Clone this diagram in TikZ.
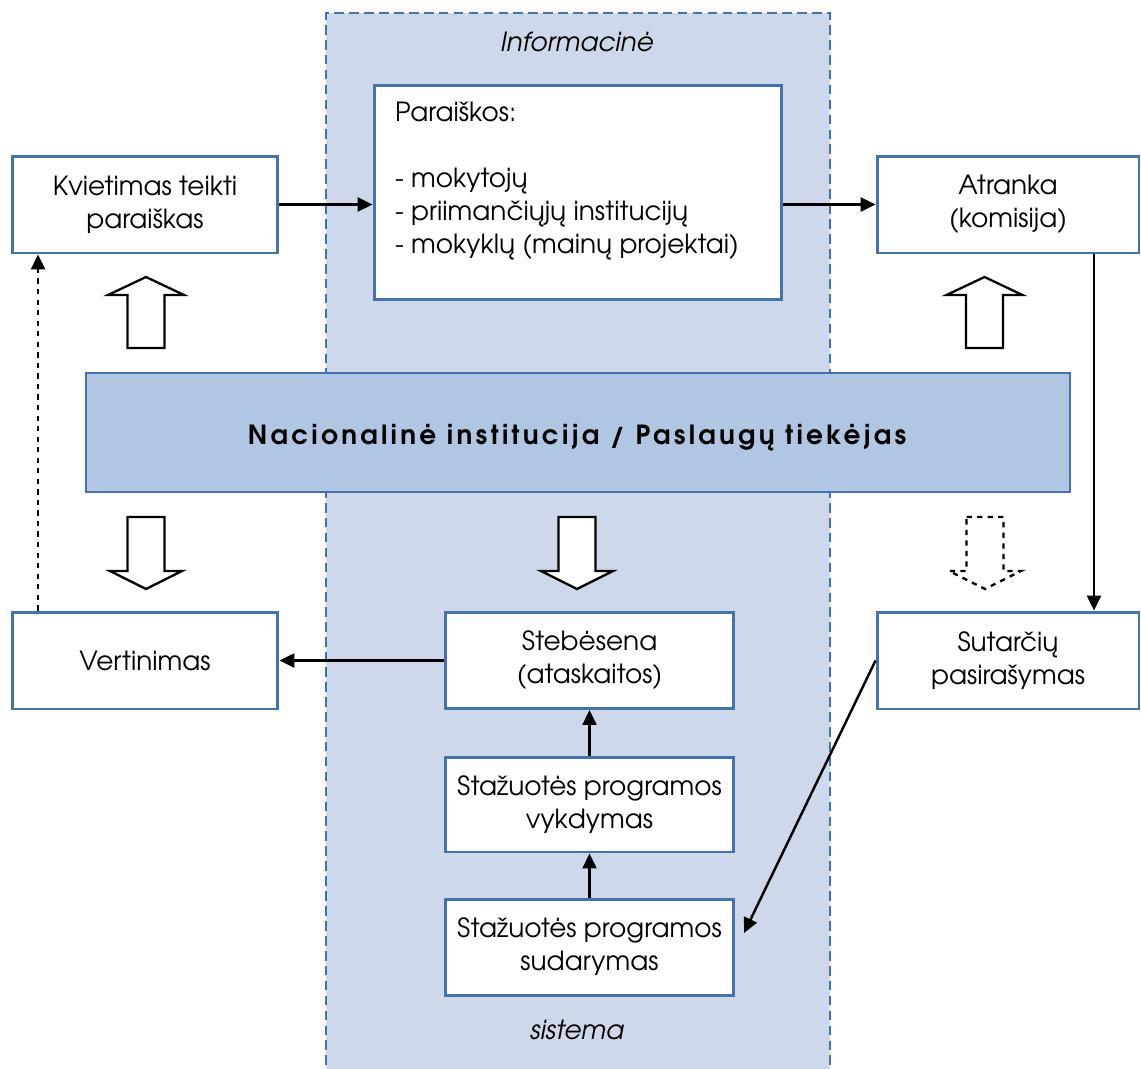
\documentclass[tikz,border=0pt]{standalone}
\usepackage{fontspec}
\setmainfont{TeX Gyre Adventor}
\usepackage{tikz}
\usetikzlibrary{positioning,arrows.meta,calc}
\definecolor{bandblue}{RGB}{205,217,234}
\definecolor{natblue}{RGB}{177,198,226}
\definecolor{edgeblue}{RGB}{68,114,176}
\tikzset{%
  txt/.style={font=\fontsize{15pt}{18.8pt}\selectfont, align=center},
  stage/.style={txt, draw=edgeblue, line width=1.7pt, fill=white, rectangle,
    inner sep=0pt},% white process box
  conn/.style={line width=1.4pt, -{Triangle[length=0.3cm,width=0.28cm]}},% connector
  bigarrow/.style={draw, line width=1.3pt, fill=white, line join=miter}% block arrow
}
\newcommand*{\blockup}[2][]{%
  \draw[bigarrow,#1] (#2-18.5,348) -- (#2-18.5,295) -- (#2-38,295) -- (#2,277)
    -- (#2+38,295) -- (#2+18.5,295) -- (#2+18.5,348) -- cycle;}
\newcommand*{\blockdown}[2][]{%
  \draw[bigarrow,#1] (#2-18.5,517) -- (#2+18.5,517) -- (#2+18.5,571) -- (#2+36,571)
    -- (#2,589) -- (#2-36,571) -- (#2-18.5,571) -- cycle;}
\begin{document}
\begin{tikzpicture}[x=0.02cm, y=-0.02cm]
\useasboundingbox (0,0) rectangle (1141,1068);

% information system band
\fill[bandblue] (326,13) rectangle (830,1080);
\draw[edgeblue, line width=1.4pt, dash pattern=on 5.5pt off 3pt] (326,1080) -- (326,13) -- (830,13) -- (830,1080);
\node[txt, font=\fontsize{15pt}{18.8pt}\selectfont\itshape] (info) at (577,42) {Informacinė};
\node[txt, font=\fontsize{15pt}{18.8pt}\selectfont\itshape] (sist) at (577,1030) {sistema};

% boxes
\node[stage, minimum width=5.32cm, minimum height=1.94cm] (kviet) at (145,204.5) {Kvietimas teikti\\paraiškas};
\node[stage, minimum width=8.16cm, minimum height=4.3cm] (paraisk) at (578,192.5) {};
\node[txt, align=left, anchor=north west] (paraisktxt) at (389,96) {Paraiškos:\\[18.8pt]- mokytojų\\- priimančiųjų institucijų\\- mokyklų (mainų projektai)};
\node[stage, minimum width=5.24cm, minimum height=1.94cm] (atranka) at (1008,204.5) {Atranka\\(komisija)};
\node[draw=edgeblue, line width=0.8pt, fill=natblue, minimum width=19.68cm, minimum height=2.38cm] (nacional) at (578,432.5) {};
\node[txt, font=\fontsize{15pt}{18.8pt}\selectfont\bfseries\addfontfeatures{LetterSpace=12.5}] (nacionaltxt) at (577,438)
  {Nacionalinė institucija / Paslaugų tiekėjas};
\node[stage, minimum width=5.32cm, minimum height=1.94cm] (vertin) at (145,660.5) {Vertinimas};
\node[stage, minimum width=5.24cm, minimum height=1.94cm] (sutart) at (1008,660.5) {Sutarčių\\pasirašymas};
\node[stage, minimum width=5.78cm, minimum height=1.92cm] (stebes) at (589.5,660.5) {Stebėsena\\(ataskaitos)};
\node[stage, minimum width=5.78cm, minimum height=1.9cm] (vykd) at (589.5,804.5) {Stažuotės programos\\vykdymas};
\node[stage, minimum width=5.78cm, minimum height=1.92cm] (sudar) at (589.5,947) {Stažuotės programos\\sudarymas};
\coordinate (sudarin) at (744,933);

% block arrows
\blockup{146}
\blockup{984.5}
\blockdown{146}
\blockdown{577}
\blockdown[dashed]{985}

% connectors
\draw[conn] (kviet.east) -- (kviet.east -| paraisk.west);
\draw[conn] (paraisk.east |- atranka.west) -- (atranka.west);
\draw[conn] ([xshift=1.72cm]atranka.south) -- ([xshift=1.72cm]sutart.north);
\draw[conn] (sutart.west) -- (sudarin);
\draw[conn] (stebes.west) -- (vertin.east);
\draw[conn] (vykd.north) -- (stebes.south);
\draw[conn] (sudar.north) -- (vykd.south);
\draw[conn, dashed] ([xshift=-2.14cm]vertin.north) -- ([xshift=-2.14cm]kviet.south);

\end{tikzpicture}
\end{document}
